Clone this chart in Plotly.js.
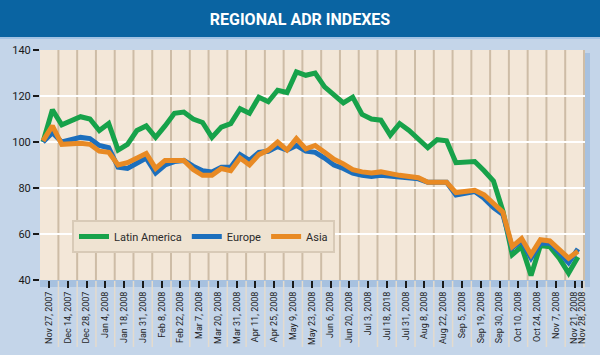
<!DOCTYPE html>
<html><head><meta charset="utf-8">
<script src="https://cdn.plot.ly/plotly-3.0.1.min.js"></script>
<style>html,body{margin:0;padding:0;background:#c4d5e9}</style>
</head><body><div id="chart" style="width:600px;height:355px"></div>
<script>
const tickLabels = ["Nov 27, 2007","Dec 14, 2007","Dec 28, 2007","Jan 4, 2008","Jan 18, 2008","Jan 31, 2008","Feb 8, 2008","Feb 22, 2008","Mar 7, 2008","Mar 20, 2008","Mar 31, 2008","Apr 11, 2008","Apr 25, 2008","May 9, 2008","May 23, 2008","Jun 6, 2008","Jun 20, 2008","Jul 3, 2008","Jul 18, 2018","Jul 31, 2008","Aug 8, 2008","Aug 22, 2008","Sep 5, 2008","Sep 19, 2008","Sep 30, 2008","Oct 10, 2008","Oct 24, 2008","Nov 7, 2008","Nov 21, 2008","Nov 28, 2008"];

const latinAmerica = [100,114,107.5,109.5,111,110,105,108,96.5,99,105,107,102,107,112.5,113,110,108.5,102,106.5,108,114.5,112.5,119.5,117.5,122.5,121.5,130.5,129,130,124,120.5,117,119.5,112,110,109.5,103,108,105,101,97.5,101,100.5,91,91,91.5,87.5,83,70,51,54.5,42,55,54.5,49.5,43,50];
const europe = [100,104,100,101,102,101.5,98.5,97.5,89,88.5,91,93,86.5,90,91.5,92,89.5,87.5,87,89,89,94.5,92,95.5,96,98,96.5,98.5,96,95.5,93,90,88.5,86.5,85.5,85,85.5,85,85,84.5,84,82.5,82.5,82.5,77,78,78.5,75.5,71.5,68.5,54,57,49.5,56,56,52,47.5,53.5];
const asia = [100.5,107,99,99.5,99.5,99,96,95.5,90,91,93,95,88.5,92,92,92,88,85.5,85.5,88.5,87.5,93,90,94.5,96.5,100,96.5,101.5,97,98.5,95.5,92.5,90.5,88,87,86.5,87,86,85.5,85,84.5,82.5,82.5,82.5,78,78.5,79,77,73,69.5,54.5,58,51,57.5,57,53.5,49.5,52.5];

const seriesNames = ["Latin America","Europe","Asia"];
const seriesColors = ["#17a24a","#1c6fbd","#e88a24"];
const yTicks = [40,60,80,100,120,140];

const idx = latinAmerica.map((_, i) => i);
// tick label positions (in data-point units)
const tickVals = tickLabels.map((_, k) => k < tickLabels.length - 1 ? 0.64 + 2 * k : 57.4);

// pixel helpers for paper-coords decorations
const L = 40, R = 585, T = 50, B = 280;
const xp = p => (p - L) / (R - L);
const yp = p => (B - p) / (B - T);

const shapes = [];
// title bar
shapes.push({type:'rect', xref:'paper', yref:'paper', x0:xp(-2), x1:xp(602), y0:yp(37), y1:yp(-2), fillcolor:'#0a64a2', line:{width:0}, layer:'below'});
shapes.push({type:'rect', xref:'paper', yref:'paper', x0:xp(-2), x1:xp(602), y0:yp(39), y1:yp(37), fillcolor:'#a3c3e4', line:{width:0}, layer:'below'});
// shadow strips
shapes.push({type:'rect', xref:'paper', yref:'paper', x0:xp(40), x1:xp(590), y0:yp(287), y1:yp(280), fillcolor:'#a7c1df', line:{width:0}, layer:'below'});
shapes.push({type:'rect', xref:'paper', yref:'paper', x0:xp(585), x1:xp(590), y0:yp(287), y1:yp(53), fillcolor:'#a7c1df', line:{width:0}, layer:'below'});
// vertical dividers (plot + label area)
for (let k = 1; k < tickLabels.length; k++) {
  const xv = tickVals[k - 1] + 1;
  shapes.push({type:'line', xref:'x', yref:'paper', x0:xv, x1:xv, y0:0, y1:1, line:{color:'#cdbca6', width:2}, layer:'below'});
  shapes.push({type:'line', xref:'x', yref:'paper', x0:xv, x1:xv, y0:yp(347), y1:yp(281), line:{color:'#e4dbcd', width:1.5}, layer:'below'});
}
// horizontal white grid
[60,80,100,120].forEach(v => shapes.push({type:'line', xref:'paper', yref:'y', x0:0, x1:1, y0:v, y1:v, line:{color:'#ffffff', width:2}, layer:'below'}));

const seriesData = [latinAmerica, europe, asia];
const traces = seriesData.map((vals, s) => ({
  type:'scatter', mode:'lines', name:seriesNames[s], x:idx, y:vals,
  line:{color:seriesColors[s], width:5}
}));

const FONT = 'Roboto, "Liberation Sans", sans-serif';
const layout = {
  width:600, height:355,
  margin:{l:L, r:600-R, t:T, b:355-B},
  paper_bgcolor:'#c4d5e9',
  plot_bgcolor:'#f3e7d8',
  font:{family:FONT, color:'#222'},
  title:{text:'REGIONAL ADR INDEXES', font:{family:FONT, size:16, color:'#ffffff', weight:'bold'},
         xref:'container', x:0.5, xanchor:'center', yref:'container', y:1-19/355, yanchor:'middle'},
  xaxis:{range:[-0.32,57.75], tickmode:'array', tickvals:tickVals, ticktext:tickLabels, tickangle:-90,
         ticks:'outside', ticklen:7, tickwidth:2, tickcolor:'#1a1a1a', showgrid:false, zeroline:false, showline:false,
         tickfont:{family:FONT, size:9, color:'#1f1f1f'}, fixedrange:true},
  yaxis:{range:[40,140], tickmode:'array', tickvals:yTicks, ticks:'outside', ticklen:6, tickwidth:2, tickcolor:'#1a1a1a',
         showgrid:false, zeroline:false, showline:false, tickfont:{family:FONT, size:11, color:'#1a1a1a'}, fixedrange:true},
  showlegend:true,
  legend:{orientation:'h', x:xp(72), y:yp(220), xanchor:'left', yanchor:'top', bgcolor:'#efe3d2', bordercolor:'#d8cab7', borderwidth:2,
          font:{family:FONT, size:11, color:'#2a2a2a'}, itemwidth:30, traceorder:'normal'},
  shapes:shapes
};
Plotly.newPlot('chart', traces, layout, {displayModeBar:false, staticPlot:true});
</script></body></html>
